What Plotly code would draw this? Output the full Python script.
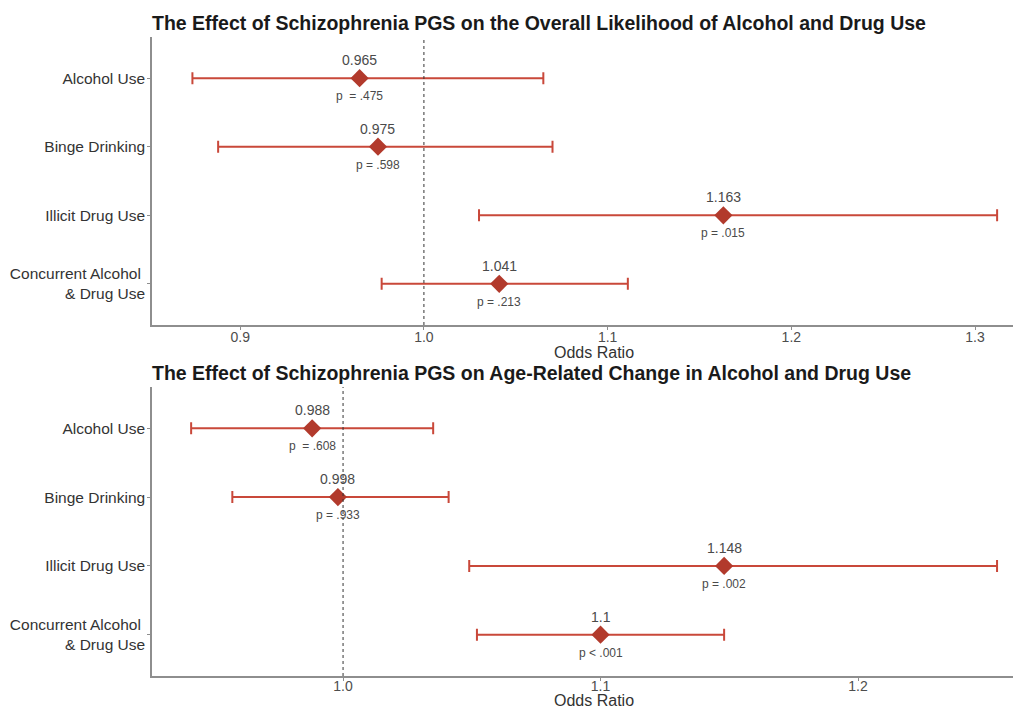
import plotly.graph_objects as go

categories = ["Alcohol Use", "Binge Drinking", "Illicit Drug Use", "Concurrent Alcohol <br>& Drug Use"]

# Panel 1: overall likelihood
or1 = [0.965, 0.975, 1.163, 1.041]
lo1 = [0.874, 0.888, 1.030, 0.977]
hi1 = [1.065, 1.070, 1.312, 1.111]
p1 = ["p  = .475", "p = .598", "p = .015", "p = .213"]

# Panel 2: age-related change
or2 = [0.988, 0.998, 1.148, 1.1]
lo2 = [0.941, 0.957, 1.049, 1.052]
hi2 = [1.035, 1.041, 1.254, 1.148]
p2 = ["p  = .608", "p = .933", "p = .002", "p < .001"]

or_labels1 = ["0.965", "0.975", "1.163", "1.041"]
or_labels2 = ["0.988", "0.998", "1.148", "1.1"]

titles = ["The Effect of Schizophrenia PGS on the Overall Likelihood of Alcohol and Drug Use",
          "The Effect of Schizophrenia PGS on Age-Related Change in Alcohol and Drug Use"]

OFF = 8  # page body margin
W, H = 1021 - OFF, 708 - OFF
BAR = "#c9483a"
PT = "#b23a2c"
FONT = "Liberation Sans, Arial, sans-serif"

def py(v):  # reference page y -> paper fraction
    return 1 - (v - OFF) / H

def px(v):
    return (v - OFF) / W

fig = go.Figure()

panels = [
    dict(orv=or1, lo=lo1, hi=hi1, p=p1, lab=or_labels1, xa="x", ya="y",
         xrange=[0.852, 1.325], ticks=[0.9, 1.0, 1.1, 1.2, 1.3], ytop=37, ybot=325, tshift=27, so=-5),
    dict(orv=or2, lo=lo2, hi=hi2, p=p2, lab=or_labels2, xa="x2", ya="y2",
         xrange=[0.9258, 1.2633], ticks=[1.0, 1.1, 1.2], ytop=387, ybot=676, tshift=24, so=-7),
]

ypos = [1, 2, 3, 4]
x0 = px(152)

for i, pn in enumerate(panels):
    fig.add_trace(go.Scatter(
        x=pn["orv"], y=ypos, xaxis=pn["xa"], yaxis=pn["ya"], mode="markers",
        marker=dict(symbol="diamond", size=14, color=PT),
        error_x=dict(type="data", symmetric=False,
                     array=[h - o for h, o in zip(pn["hi"], pn["orv"])],
                     arrayminus=[o - l for o, l in zip(pn["orv"], pn["lo"])],
                     color=BAR, thickness=2, width=6),
        showlegend=False, hoverinfo="skip"))
    for xv, yv, lab, pv in zip(pn["orv"], ypos, pn["lab"], pn["p"]):
        fig.add_annotation(x=xv, y=yv, xref=pn["xa"], yref=pn["ya"], text=lab, showarrow=False,
                           yshift=18, font=dict(family=FONT, size=14, color="#4a4a4a"))
        fig.add_annotation(x=xv, y=yv, xref=pn["xa"], yref=pn["ya"], text=pv, showarrow=False,
                           yshift=-18, font=dict(family=FONT, size=12, color="#4a4a4a"))
    fig.add_shape(type="line", xref=pn["xa"], yref=pn["ya"] + " domain", x0=1.0, x1=1.0, y0=0, y1=1,
                  line=dict(color="#333333", width=1, dash="dot"))
    dom_y = [py(pn["ybot"]), py(pn["ytop"])]
    axkey = "xaxis" if i == 0 else "xaxis2"
    aykey = "yaxis" if i == 0 else "yaxis2"
    fig.update_layout(**{
        axkey: dict(domain=[x0, 1.0], range=pn["xrange"], tickvals=pn["ticks"],
                    ticktext=[f"{t:.1f}" for t in pn["ticks"]],
                    showgrid=False, zeroline=False, showline=True, linecolor="#8e8e8e", linewidth=1.5,
                    ticks="outside", ticklen=3, tickcolor="#8e8e8e", ticklabelstandoff=pn["so"],
                    tickfont=dict(family=FONT, size=14, color="#4d4d4d"),
                    anchor=pn["ya"], fixedrange=True),
        aykey: dict(domain=dom_y, range=[4.6, 0.4], tickvals=ypos, ticktext=categories,
                    showgrid=False, zeroline=False, showline=True, linecolor="#8e8e8e", linewidth=1.5,
                    ticks="outside", ticklen=3, tickcolor="#8e8e8e", ticklabelstandoff=-1,
                    tickfont=dict(family=FONT, size=15.5, color="#333333"),
                    anchor=pn["xa"], fixedrange=True),
    })
    # panel title
    fig.add_annotation(xref="paper", yref="paper", x=x0, y=py(pn["ytop"] - 14),
                       text="<b>" + titles[i] + "</b>", showarrow=False, xanchor="left", yanchor="middle",
                       xshift=-2, font=dict(family=FONT, size=19.5, color="#1a1a1a"))
    # x axis title
    fig.add_annotation(xref="paper", yref="paper", x=px(594), y=py(pn["ybot"] + pn["tshift"]),
                       text="Odds Ratio", showarrow=False, xanchor="center", yanchor="middle",
                       font=dict(family=FONT, size=16, color="#333333"))

fig.update_layout(width=W, height=H, margin=dict(l=0, r=0, t=0, b=0),
                  paper_bgcolor="white", plot_bgcolor="white", font=dict(family=FONT))

fig.write_html("out.html")
